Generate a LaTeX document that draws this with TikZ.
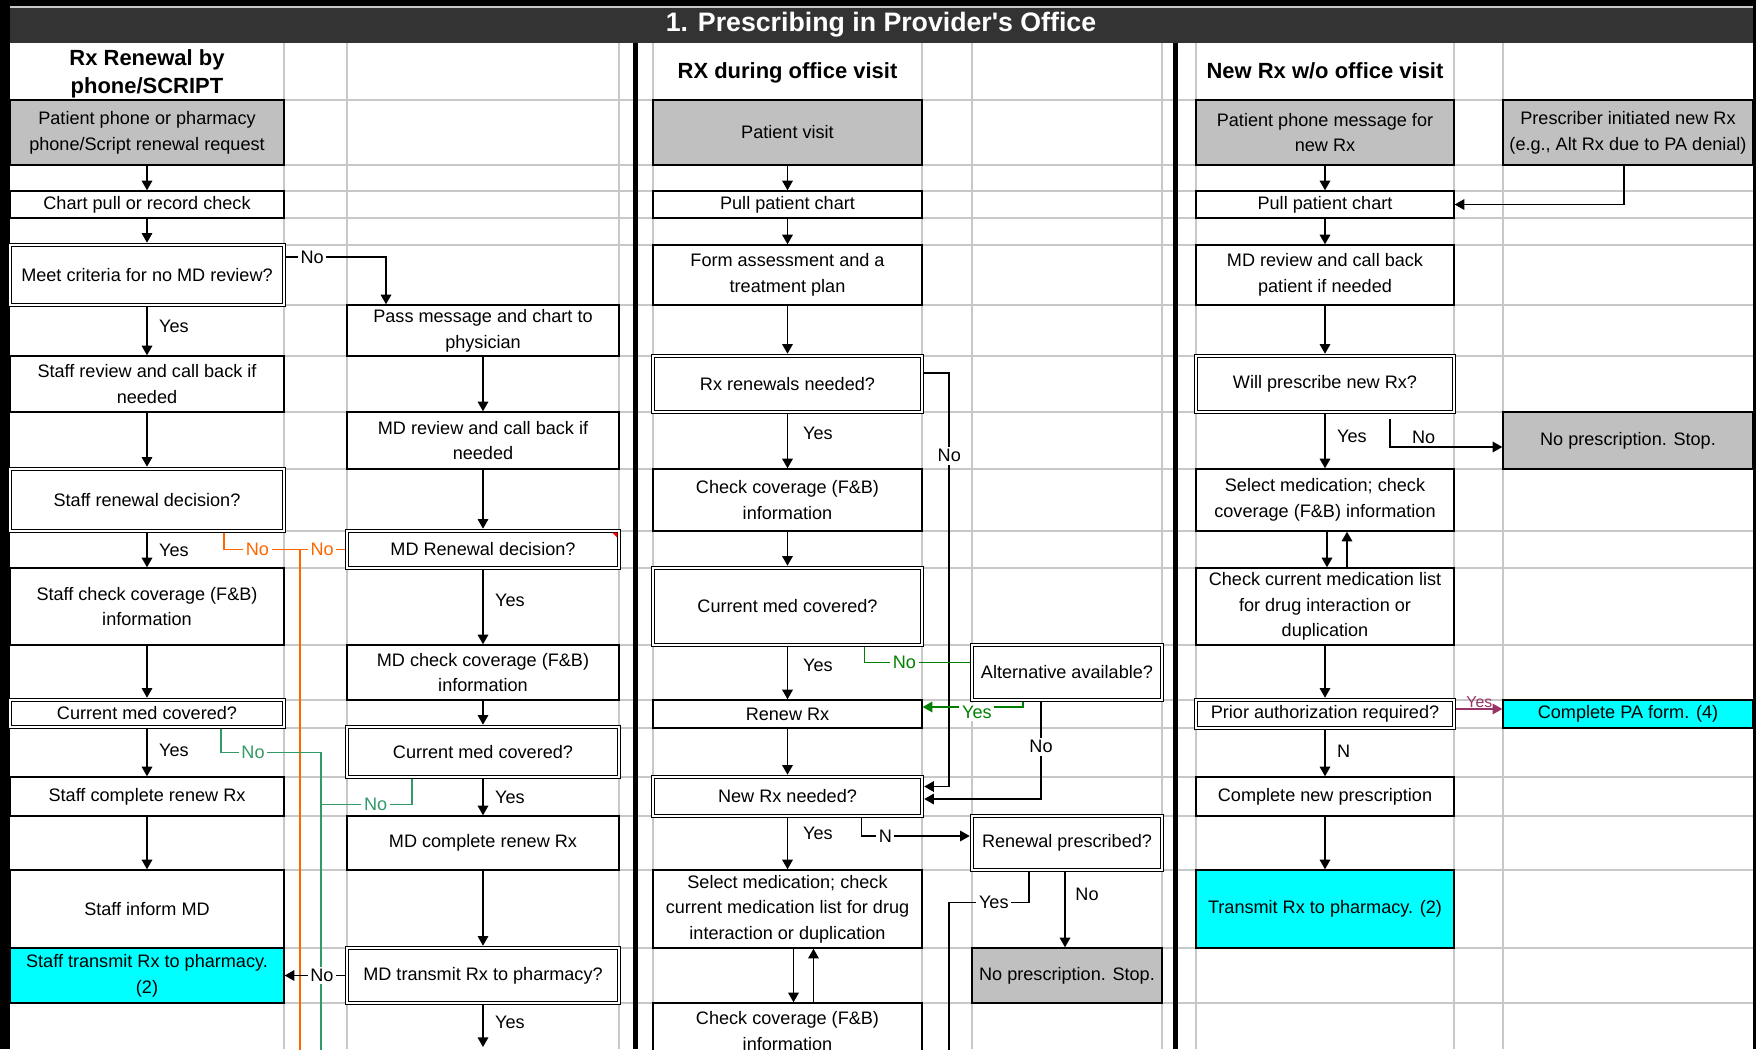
\documentclass[tikz,border=0pt]{standalone}
\usepackage{fontspec}
\setmainfont{Liberation Sans}
\usepackage{tikz}
\usetikzlibrary{arrows.meta, calc}
\definecolor{TitleGray}{HTML}{333333}
\definecolor{GridGray}{HTML}{C8C8C8}
\definecolor{StartGray}{HTML}{C0C0C0}
\definecolor{SendCyan}{HTML}{00FFFF}
\definecolor{DenyOrange}{HTML}{FF6600}
\definecolor{CoverGreen}{HTML}{339966}
\definecolor{AltGreen}{HTML}{008000}
\definecolor{PAMagenta}{HTML}{993366}

\begin{document}
\begin{tikzpicture}[x=0.02cm, y=-0.02cm,
  box/.style={draw, line width=0.8pt, fill=white, align=center, inner sep=1pt,
    font={\fontsize{10.3}{14.6}\selectfont}},
  ask/.style={box, double, double distance=1.5pt, line width=0.6pt, outer sep=1.3pt},
  startbox/.style={box, fill=StartGray},
  sendbox/.style={box, fill=SendCyan},
  colA/.style={minimum width=5.48cm},
  colC/.style={minimum width=5.44cm},
  colF/.style={minimum width=5.38cm},
  colH/.style={minimum width=3.80cm},
  colJ/.style={minimum width=5.16cm},
  colL/.style={minimum width=5.00cm},
  arrow/.style={-{Triangle[length=5.5pt, width=6pt]}, line width=0.9pt},
  link/.style={line width=0.9pt},
  lbl/.style={font={\fontsize{10.3}{12}\selectfont}, inner sep=1.5pt},
  cut/.style={lbl, fill=white},
  header/.style={font={\fontsize{12.5}{15.9}\selectfont\bfseries}, align=center}
]
  \useasboundingbox (0,0) rectangle (1756,1049);
  \clip (0,0) rectangle (1756,1049);

  % sheet background and title bar
  \fill[black] (0,0) rectangle (1756,1049);
  \fill[white] (10,43) rectangle (1753,1049);
  \fill[TitleGray] (10,7) rectangle (1753,43);
  \draw[GridGray, line width=0.6pt] (10,7) -- (1753,7);
  \node[text=white, font={\fontsize{15.2}{18}\selectfont\bfseries}] (title) at (881,25)
    {1. Prescribing in Provider\textquotesingle s Office};

  % spreadsheet grid
  \foreach \gx in {284,347,619,653,922,972,1162,1196,1454,1503}
    \draw[GridGray, line width=0.8pt] (\gx,43) -- (\gx,1049);
  \foreach \gy in {100,165,191,218,245,305,356,412,469,531,568,645,700,728,777,816,870,948,1003}
    \draw[GridGray, line width=0.8pt] (10,\gy) -- (1753,\gy);
  \draw[line width=3pt] (635.5,43) -- (635.5,1049);
  \draw[line width=3pt] (1175.5,43) -- (1175.5,1049);

  \node[header] (hdrA) at (147,74) {Rx Renewal by\\phone/SCRIPT};
  \node[header] (hdrF) at (787.5,73) {RX during office visit};
  \node[header] (hdrJ) at (1325,71) {New Rx w/o office visit};

  % Rx renewal by phone/SCRIPT
  \node[startbox, colA, minimum height=1.30cm] (req) at (147,132.5) {Patient phone or pharmacy\\phone/Script renewal request};
  \node[box, colA, minimum height=0.54cm] (chartpull) at (147,204.5) {Chart pull or record check};
  \node[ask, colA, minimum height=1.20cm] (meet) at (147,275) {Meet criteria for no MD review?};
  \node[box, colA, minimum height=1.12cm] (staffrev) at (147,384) {Staff review and call back if\\needed};
  \node[ask, colA, minimum height=1.24cm] (staffdec) at (147,500) {Staff renewal decision?};
  \node[box, colA, minimum height=1.54cm] (staffcov) at (147,606.5) {Staff check coverage (F\&B)\\information};
  \node[ask, colA, minimum height=0.54cm] (staffmed) at (147,713.5) {Current med covered?};
  \node[box, colA, minimum height=0.78cm] (staffrenew) at (147,796.5) {Staff complete renew Rx};
  \node[box, colA, minimum height=1.56cm] (staffinform) at (147,909) {Staff inform MD};
  \node[sendbox, colA, minimum height=1.10cm] (stafftx) at (147,975.5) {Staff transmit Rx to pharmacy.\\(2)};

  \node[box, colC, minimum height=1.02cm] (passmsg) at (483,330.5) {Pass message and chart to\\physician};
  \node[box, colC, minimum height=1.14cm] (mdrev) at (483,440.5) {MD review and call back if\\needed};
  \node[ask, colC, minimum height=0.74cm] (mddec) at (483,549.5) {MD Renewal decision?};
  \node[box, colC, minimum height=1.10cm] (mdcov) at (483,672.5) {MD check coverage (F\&B)\\information};
  \node[ask, colC, minimum height=1.00cm] (mdmed) at (483,752) {Current med covered?};
  \node[box, colC, minimum height=1.08cm] (mdrenew) at (483,843) {MD complete renew Rx};
  \node[ask, colC, minimum height=1.10cm] (mdtx) at (483,975.5) {MD transmit Rx to pharmacy?};
  \fill[red] ($(mddec.north east)+(-9,4)$) -- ($(mddec.north east)+(-4,4)$) -- ($(mddec.north east)+(-4,9)$) -- cycle;

  % RX during office visit
  \node[startbox, colF, minimum height=1.30cm] (visit) at (787.5,132.5) {Patient visit};
  \node[box, colF, minimum height=0.54cm] (pullF) at (787.5,204.5) {Pull patient chart};
  \node[box, colF, minimum height=1.20cm] (assess) at (787.5,275) {Form assessment and a\\treatment plan};
  \node[ask, colF, minimum height=1.12cm] (renneed) at (787.5,384) {Rx renewals needed?};
  \node[box, colF, minimum height=1.24cm] (covF) at (787.5,500) {Check coverage (F\&B)\\information};
  \node[ask, colF, minimum height=1.54cm] (medF) at (787.5,606.5) {Current med covered?};
  \node[box, colF, minimum height=0.56cm] (renew) at (787.5,714) {Renew Rx};
  \node[ask, colF, minimum height=0.78cm] (newneed) at (787.5,796.5) {New Rx needed?};
  \node[box, colF, minimum height=1.56cm] (selF) at (787.5,909) {Select medication; check\\current medication list for drug\\interaction or duplication};
  \node[box, colF, minimum height=1.12cm] (covF2) at (787.5,1031) {Check coverage (F\&B)\\information};

  \node[ask, colH, minimum height=1.10cm] (alt) at (1067,672.5) {Alternative available?};
  \node[ask, colH, minimum height=1.08cm] (renpres) at (1067,843) {Renewal prescribed?};
  \node[startbox, colH, minimum height=1.10cm] (stopH) at (1067,975.5) {No prescription. Stop.};

  % New Rx w/o office visit
  \node[startbox, colJ, minimum height=1.30cm] (phonemsg) at (1325,132.5) {Patient phone message for\\new Rx};
  \node[box, colJ, minimum height=0.54cm] (pullJ) at (1325,204.5) {Pull patient chart};
  \node[box, colJ, minimum height=1.20cm] (mdrevJ) at (1325,275) {MD review and call back\\patient if needed};
  \node[ask, colJ, minimum height=1.12cm] (willpres) at (1325,384) {Will prescribe new Rx?};
  \node[box, colJ, minimum height=1.24cm] (selJ) at (1325,500) {Select medication; check\\coverage (F\&B) information};
  \node[box, colJ, minimum height=1.54cm] (checkJ) at (1325,606.5) {Check current medication list\\for drug interaction or\\duplication};
  \node[ask, colJ, minimum height=0.56cm] (prior) at (1325,714) {Prior authorization required?};
  \node[box, colJ, minimum height=0.78cm] (complete) at (1325,796.5) {Complete new prescription};
  \node[sendbox, colJ, minimum height=1.56cm] (txJ) at (1325,909) {Transmit Rx to pharmacy. (2)};

  \node[startbox, colL, minimum height=1.30cm] (prescinit) at (1628,132.5) {Prescriber initiated new Rx\\(e.g., Alt Rx due to PA denial)};
  \node[startbox, colL, minimum height=1.14cm] (stopL) at (1628,440.5) {No prescription. Stop.};
  \node[sendbox, colL, minimum height=0.56cm] (paform) at (1628,714) {Complete PA form. (4)};

  % free ends running off the sheet
  \coordinate (denyend) at (300,1060);
  \coordinate (coverend) at (321,1060);
  \coordinate (rxend) at (949,1060);
  \coordinate (mdnext) at (483,1047);

  % connectors, phone/SCRIPT
  \draw[arrow] (req) -- (chartpull);
  \draw[arrow] (chartpull) -- (meet);
  \draw[arrow] (meet) -- node[lbl, right=5pt, pos=0.4]{Yes} (staffrev);
  \draw[arrow] ($(meet.east)+(0,-18)$) -| node[cut, pos=0.13]{No} ($(passmsg.north)+(-97,0)$);
  \draw[arrow] (staffrev) -- (staffdec);
  \draw[arrow] (staffdec) -- node[lbl, right=5pt]{Yes} (staffcov);
  \draw[link, DenyOrange] ($(staffdec.south)+(77,0)$) |- node[cut, text=DenyOrange, pos=0.72]{No}
    ($(mddec.west)+(-45,0)$) coordinate (denybend) -- (denybend |- denyend);
  \draw[link, DenyOrange] (mddec.west) -- node[cut, text=DenyOrange]{No} (denybend);
  \draw[arrow] (staffcov) -- (staffmed);
  \draw[arrow] (staffmed) -- node[lbl, right=5pt, pos=0.45]{Yes} (staffrenew);
  \draw[link, CoverGreen] ($(staffmed.south)+(74,0)$) |- node[cut, text=CoverGreen, pos=0.66]{No}
    ($(staffmed.south)+(174,23)$) coordinate (coverbend) -- (coverbend |- coverend);
  \draw[arrow] (staffrenew) -- (staffinform);

  \draw[arrow] (passmsg) -- (mdrev);
  \draw[arrow] (mdrev) -- (mddec);
  \draw[arrow] (mddec) -- node[lbl, right=5pt, pos=0.4]{Yes} (mdcov);
  \draw[arrow] (mdcov) -- (mdmed);
  \draw[arrow] (mdmed) -- node[lbl, right=5pt]{Yes} (mdrenew);
  \draw[link, CoverGreen] ($(mdmed.south)+(-71,0)$) |- node[cut, text=CoverGreen, pos=0.7]{No} ($(mdmed.south)+(-162,25)$);
  \draw[arrow] (mdrenew) -- (mdtx);
  \draw[arrow] (mdtx) -- node[cut, pos=0.38]{No} (stafftx);
  \draw[arrow] (mdtx) -- node[lbl, right=5pt, pos=0.4]{Yes} (mdnext);

  % connectors, office visit
  \draw[arrow] (visit) -- (pullF);
  \draw[arrow] (pullF) -- (assess);
  \draw[arrow] (assess) -- (renneed);
  \draw[arrow] (renneed) -- node[lbl, right=7pt, pos=0.35]{Yes} (covF);
  \draw[arrow] ($(renneed.east)+(0,-11)$) -| node[cut, pos=0.6]{No} ($(newneed.east)+(25,-10)$) -- ($(newneed.east)+(0,-10)$);
  \draw[arrow] (covF) -- (medF);
  \draw[arrow] (medF) -- node[lbl, right=7pt, pos=0.35]{Yes} (renew);
  \draw[link, AltGreen] ($(medF.south)+(77,0)$) |- node[cut, text=AltGreen, pos=0.69]{No} ($(alt.west)+(0,-10)$);
  \draw[arrow, AltGreen] ($(alt.south)+(-44,0)$) |- node[cut, text=AltGreen, pos=0.73, yshift=-3pt]{Yes} ($(renew.east)+(0,-7)$);
  \draw[arrow] ($(alt.south)+(-26,0)$) |- node[cut, pos=0.23]{No} ($(newneed.east)+(0,2.5)$);
  \draw[arrow] (renew) -- (newneed);
  \draw[arrow] (newneed) -- node[lbl, right=7pt, pos=0.3]{Yes} (selF);
  \draw[arrow] ($(newneed.south)+(74,0)$) |- node[cut, pos=0.61]{N} ($(renpres.west)+(0,-7)$);
  \draw[link] ($(renpres.south)+(-38,0)$) -- ($(renpres.south)+(-38,30)$) -| node[cut, pos=0.22]{Yes} (rxend);
  \draw[arrow] ($(renpres.south)+(-2,0)$) -- node[lbl, right=4pt, pos=0.3]{No} ($(stopH.north)+(-2,0)$);
  \draw[arrow] ($(selF.south)+(6,0)$) -- ($(covF2.north)+(6,0)$);
  \draw[arrow] ($(covF2.north)+(26,0)$) -- ($(selF.south)+(26,0)$);

  % connectors, new Rx
  \draw[arrow] (phonemsg) -- (pullJ);
  \draw[arrow] ($(prescinit.south)+(-4,0)$) |- (pullJ.east);
  \draw[arrow] (pullJ) -- (mdrevJ);
  \draw[arrow] (mdrevJ) -- (willpres);
  \draw[arrow] (willpres) -- node[lbl, right=5pt, pos=0.4]{Yes} (selJ);
  \draw[arrow] ($(willpres.south)+(65,5)$) |- node[lbl, above, pos=0.65]{No} ($(stopL.west)+(0,6.5)$);
  \draw[arrow] ($(selJ.south)+(2,0)$) -- ($(checkJ.north)+(2,0)$);
  \draw[arrow] ($(checkJ.north)+(22,0)$) -- ($(selJ.south)+(22,0)$);
  \draw[arrow] (checkJ) -- (prior);
  \draw[arrow, PAMagenta, line width=0.7pt] ($(prior.east)+(0,-5)$) -- node[lbl, above=-1pt, text=PAMagenta, font={\fontsize{9}{10}\selectfont}]{Yes} ($(paform.west)+(0,-5)$);
  \draw[arrow] (prior) -- node[lbl, right=5pt, pos=0.45]{N} (complete);
  \draw[arrow] (complete) -- (txJ);
\end{tikzpicture}
\end{document}
